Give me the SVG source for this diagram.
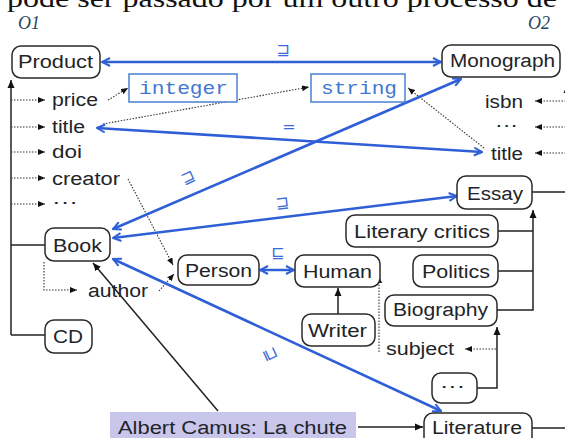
<svg xmlns="http://www.w3.org/2000/svg" width="565" height="438" viewBox="0 0 565 438">
<style>
  .box { fill: #fff; stroke: #2a2a2a; stroke-width: 1.5; }
  .t { font-family: "Liberation Sans", Arial, sans-serif; font-size: 18px; fill: #1e2428; }
  .mono { font-family: "Liberation Mono", "Courier New", monospace; font-size: 18px; fill: #3f78d0; }
  .tbox { fill: #fff; stroke: #4a80d4; stroke-width: 1.5; }
  .blue { fill: none; stroke: #2f5fd6; stroke-width: 2.6; }
  .solid { fill: none; stroke: #222; stroke-width: 1.5; }
  .dot { fill: none; stroke: #333; stroke-width: 1.1; stroke-dasharray: 1.5 1.5; }
  .sym { font-family: "DejaVu Sans", sans-serif; font-size: 16px; fill: #3a6ad8; text-anchor: middle; }
  .onto { font-family: "Liberation Serif", "Times New Roman", serif; font-style: italic; font-size: 18px; fill: #2a4560; }
</style>
<defs>
  <marker id="bv" viewBox="0 0 10 10" refX="9" refY="5" markerWidth="10" markerHeight="10" markerUnits="userSpaceOnUse" orient="auto-start-reverse">
    <path d="M1,1 L9,5 L1,9" fill="none" stroke="#2f5fd6" stroke-width="2"/>
  </marker>
  <marker id="ba" viewBox="0 0 8 8" refX="8" refY="4" markerWidth="8" markerHeight="8" markerUnits="userSpaceOnUse" orient="auto">
    <path d="M0,0.5 L8,4 L0,7.5 z" fill="#111"/>
  </marker>
  <marker id="da" viewBox="0 0 7 6" refX="7" refY="3" markerWidth="7" markerHeight="6" markerUnits="userSpaceOnUse" orient="auto">
    <path d="M0,0 L7,3 L0,6 z" fill="#111"/>
  </marker>
</defs>

<rect width="565" height="438" fill="#fff"/>
<text x="7" y="7" font-family="Liberation Serif, 'Times New Roman', serif" font-size="25" fill="#111" textLength="550" lengthAdjust="spacingAndGlyphs">pode ser passado por um outro processo de</text>
<text class="onto" x="18" y="29">O1</text>
<text class="onto" x="528" y="29">O2</text>

<g id="connectors">
  <!-- O1 hierarchy -->
  <path class="solid" d="M11,335 V80" marker-end="url(#ba)"/>
  <path class="solid" d="M11,245 H45"/>
  <path class="solid" d="M11,335 H45"/>
  <path class="dot" d="M11,100 H45" marker-end="url(#da)"/>
  <path class="dot" d="M11,127 H45" marker-end="url(#da)"/>
  <path class="dot" d="M11,152 H45" marker-end="url(#da)"/>
  <path class="dot" d="M11,178 H45" marker-end="url(#da)"/>
  <path class="dot" d="M11,204 H45" marker-end="url(#da)"/>
  <path class="dot" d="M44,262 V290 H77" marker-end="url(#da)"/>
  <path class="dot" d="M108,100 L128,88" marker-end="url(#da)"/>
  <path class="dot" d="M103,124 L309,87" marker-end="url(#da)"/>
  <path class="dot" d="M484,148 L408,88" marker-end="url(#da)"/>
  <path class="dot" d="M128,179 L173,265" marker-end="url(#da)"/>
  <path class="dot" d="M159,291 L174,274" marker-end="url(#da)"/>
  <path class="solid" d="M218,411 L93,263" marker-end="url(#ba)"/>
  <path class="solid" d="M358,427 H423" marker-end="url(#ba)"/>
  <path class="solid" d="M338,314 V288" marker-end="url(#ba)"/>
  <path class="dot" d="M379,352 V276" marker-end="url(#da)"/>
  <!-- O2 hierarchy -->
  <path class="solid" d="M567,440 V85" marker-end="url(#ba)"/>
  <path class="solid" d="M532,192 H567"/>
  <path class="solid" d="M532,428 H567"/>
  <path class="dot" d="M566,101 H535" marker-end="url(#da)"/>
  <path class="dot" d="M566,127 H535" marker-end="url(#da)"/>
  <path class="dot" d="M566,153 H535" marker-end="url(#da)"/>
  <path class="solid" d="M498,231 H533 M498,271 H533 M497,310 H533 V210" marker-end="url(#ba)"/>
  <path class="solid" d="M477,388 H497 V327" marker-end="url(#ba)"/>
  <path class="dot" d="M496,349 H465" marker-end="url(#da)"/>
  <!-- alignments -->
  <path class="blue" d="M102,62 H441" marker-start="url(#bv)" marker-end="url(#bv)"/>
  <path class="blue" d="M97,128 L482,152" marker-start="url(#bv)" marker-end="url(#bv)"/>
  <path class="blue" d="M113,229 L461,79" marker-start="url(#bv)" marker-end="url(#bv)"/>
  <path class="blue" d="M113,238 L457,196" marker-start="url(#bv)" marker-end="url(#bv)"/>
  <path class="blue" d="M113,259 L441,411" marker-start="url(#bv)" marker-end="url(#bv)"/>
  <path class="blue" d="M260,270 H294" marker-start="url(#bv)" marker-end="url(#bv)"/>
  <text class="sym" x="283" y="55">⊒</text>
  <text class="sym" x="289" y="132">=</text>
  <text class="sym" transform="translate(190,182) rotate(-25)">⊒</text>
  <text class="sym" transform="translate(283,208) rotate(-7)">⊒</text>
  <text class="sym" x="278" y="258">⊑</text>
  <text class="sym" transform="translate(266,356) rotate(65)">⊒</text>
</g>

<g id="Product"><rect class="box" x="12" y="46" width="88" height="32" rx="9"/><text class="t" x="18" y="68" textLength="75" lengthAdjust="spacingAndGlyphs">Product</text></g>
<g id="price"><text class="t" x="52" y="106" textLength="46" lengthAdjust="spacingAndGlyphs">price</text></g>
<g id="title1"><text class="t" x="52" y="133" textLength="33" lengthAdjust="spacingAndGlyphs">title</text></g>
<g id="doi"><text class="t" x="52" y="158" textLength="30" lengthAdjust="spacingAndGlyphs">doi</text></g>
<g id="creator"><text class="t" x="52" y="185" textLength="68" lengthAdjust="spacingAndGlyphs">creator</text></g>
<g id="more1"><text class="t" x="52" y="208" textLength="26" lengthAdjust="spacingAndGlyphs" fill="#555">···</text></g>
<g id="integer"><rect class="tbox" x="129" y="74" width="108" height="28"/><text class="mono" x="139" y="94" textLength="89" lengthAdjust="spacingAndGlyphs">integer</text></g>
<g id="string"><rect class="tbox" x="311" y="74" width="94" height="28"/><text class="mono" x="321" y="94" textLength="76" lengthAdjust="spacingAndGlyphs">string</text></g>
<g id="Book"><rect class="box" x="45" y="228" width="65" height="33" rx="9"/><text class="t" x="53" y="252" textLength="49" lengthAdjust="spacingAndGlyphs">Book</text></g>
<g id="author"><text class="t" x="88" y="297" textLength="60" lengthAdjust="spacingAndGlyphs">author</text></g>
<g id="CD"><rect class="box" x="45" y="320" width="47" height="33" rx="9"/><text class="t" x="53" y="343" textLength="30" lengthAdjust="spacingAndGlyphs">CD</text></g>
<g id="Person"><rect class="box" x="178" y="255" width="81" height="30" rx="9"/><text class="t" x="185" y="277" textLength="67" lengthAdjust="spacingAndGlyphs">Person</text></g>
<g id="Human"><rect class="box" x="295" y="255" width="85" height="32" rx="9"/><text class="t" x="303" y="278" textLength="69" lengthAdjust="spacingAndGlyphs">Human</text></g>
<g id="Writer"><rect class="box" x="302" y="314" width="73" height="32" rx="9"/><text class="t" x="308" y="337" textLength="59" lengthAdjust="spacingAndGlyphs">Writer</text></g>
<g id="Monograph"><rect class="box" x="442" y="45" width="118" height="32" rx="9"/><text class="t" x="450" y="67" textLength="105" lengthAdjust="spacingAndGlyphs">Monograph</text></g>
<g id="isbn"><text class="t" x="485" y="108" textLength="38" lengthAdjust="spacingAndGlyphs">isbn</text></g>
<g id="more2"><text class="t" x="495" y="131" textLength="23" lengthAdjust="spacingAndGlyphs" fill="#555">···</text></g>
<g id="title2"><text class="t" x="491" y="160" textLength="32" lengthAdjust="spacingAndGlyphs">title</text></g>
<g id="Essay"><rect class="box" x="457" y="176" width="75" height="33" rx="9"/><text class="t" x="467" y="200" textLength="56" lengthAdjust="spacingAndGlyphs">Essay</text></g>
<g id="LiteraryCritics"><rect class="box" x="346" y="215" width="152" height="32" rx="9"/><text class="t" x="354" y="238" textLength="136" lengthAdjust="spacingAndGlyphs">Literary critics</text></g>
<g id="Politics"><rect class="box" x="413" y="255" width="85" height="32" rx="9"/><text class="t" x="422" y="278" textLength="68" lengthAdjust="spacingAndGlyphs">Politics</text></g>
<g id="Biography"><rect class="box" x="385" y="295" width="112" height="31" rx="9"/><text class="t" x="393" y="316" textLength="95" lengthAdjust="spacingAndGlyphs">Biography</text></g>
<g id="subject"><text class="t" x="386" y="355" textLength="68" lengthAdjust="spacingAndGlyphs">subject</text></g>
<g id="more3"><rect class="box" x="432" y="373" width="45" height="30" rx="9"/><text class="t" x="440" y="392" textLength="25" lengthAdjust="spacingAndGlyphs" fill="#555">···</text></g>
<g id="Literature"><rect class="box" x="424" y="413" width="108" height="36" rx="9"/><text class="t" x="432" y="434" textLength="90" lengthAdjust="spacingAndGlyphs">Literature</text></g>
<g id="AlbertCamus"><rect x="110" y="412" width="246" height="30" fill="#c9c6ec"/><text class="t" x="118" y="434" textLength="229" lengthAdjust="spacingAndGlyphs">Albert Camus: La chute</text></g>
</svg>
